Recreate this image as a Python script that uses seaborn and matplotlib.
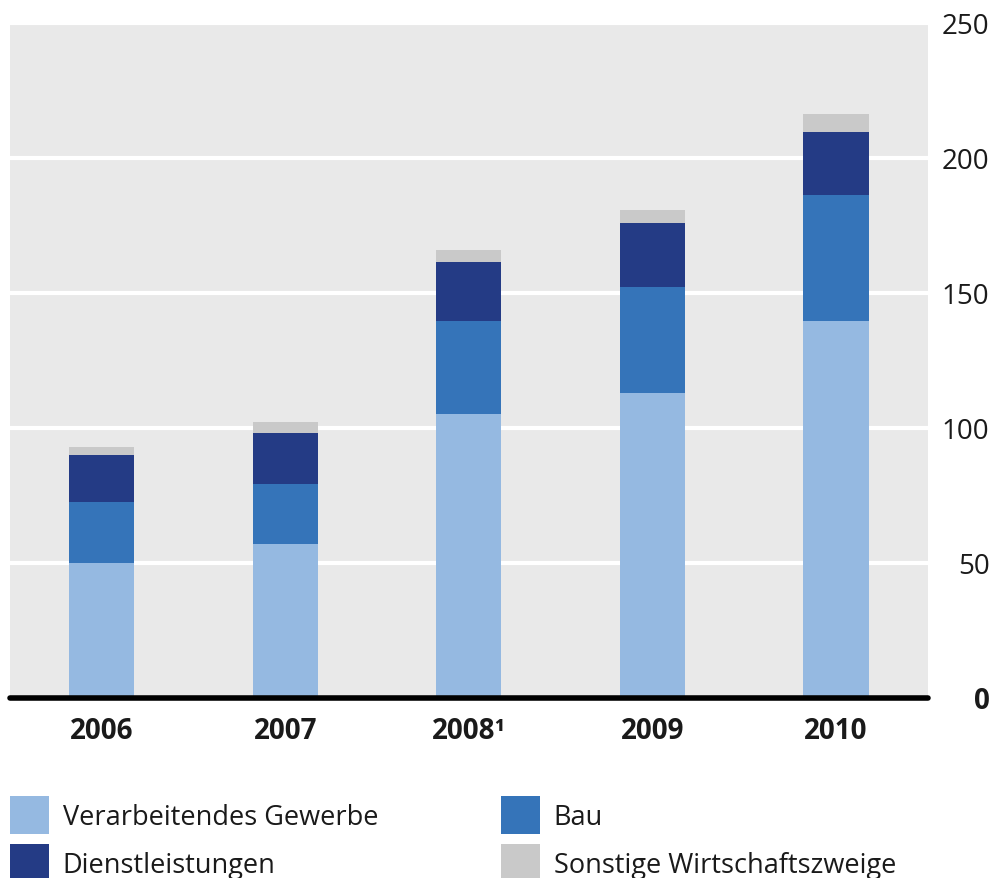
import matplotlib
matplotlib.use("Agg")
import matplotlib.pyplot as plt
from matplotlib.patches import Patch
import seaborn as sns
import pandas as pd
import numpy as np

# Data
years = ["2006", "2007", "2008\u00b9", "2009", "2010"]
verarbeitendes = [49.8, 56.7, 105.0, 112.8, 139.6]
bau = [22.6, 22.5, 34.6, 39.3, 46.6]
dienstleistungen = [17.4, 18.8, 21.6, 23.6, 23.1]
sonstige = [3.0, 4.1, 4.5, 4.9, 6.8]
series_names = ["Verarbeitendes Gewerbe", "Bau", "Dienstleistungen",
                "Sonstige Wirtschaftszweige"]
series_colors = ["#95B9E1", "#3574B9", "#243B85", "#C9C9C9"]
y_ticks = [0, 50, 100, 150, 200, 250]

sns.set_theme(style="white")
plt.rcParams["font.family"] = ["Open Sans", "DejaVu Sans"]

df = pd.DataFrame({
    "Jahr": years,
    series_names[0]: verarbeitendes,
    series_names[1]: bau,
    series_names[2]: dienstleistungen,
    series_names[3]: sonstige,
})
# cumulative tops for stacking
cum = df[series_names].cumsum(axis=1)
for name in series_names:
    df["top_" + name] = cum[name]

W, H = 992, 879
fig = plt.figure(figsize=(W / 100, H / 100), dpi=100)
x0, x1 = 10, 927.7
y_top, y_zero = 23.5, 698.5
ax = fig.add_axes([x0 / W, (H - y_zero) / H, (x1 - x0) / W, (y_zero - y_top) / H])
ax.set_facecolor("none")
# grey plotting panel, ending just below the top tick
ax.axhspan(0, 249.1, color="#E9E9E9", zorder=0, linewidth=0)

# draw the tallest layer first so each lower segment sits on top of it
for name, color in reversed(list(zip(series_names, series_colors))):
    sns.barplot(data=df, x="Jahr", y="top_" + name, color=color, saturation=1,
                width=0.355, errorbar=None, edgecolor="none", linewidth=0, ax=ax)

ax.set_xlim(-0.5, 4.5)
ax.set_ylim(0, 250)
ax.set_axisbelow(True)
ax.yaxis.grid(True, color="white", linewidth=3)
ax.xaxis.grid(False)
for s in ax.spines.values():
    s.set_visible(False)
ax.axhline(0, color="black", linewidth=4, clip_on=False, zorder=5)

ax.set_xlabel("")
ax.set_ylabel("")
ax.yaxis.tick_right()
ax.set_yticks(y_ticks, labels=[str(v) for v in y_ticks], ha="right")
ax.tick_params(axis="y", length=0, pad=44.5, labelsize=20, colors="#1a1a1a")
ax.get_yticklabels()[0].set_fontweight("bold")
ax.tick_params(axis="x", length=0, pad=13, labelsize=20, colors="#1a1a1a")
for lab in ax.get_xticklabels():
    lab.set_fontweight("bold")

handles = [Patch(facecolor=c, edgecolor="none") for c in series_colors]
leg_kw = dict(loc="upper left", frameon=False, fontsize=19.5, handlelength=1.45,
              handleheight=1.8, handletextpad=0.5, labelspacing=0.36,
              borderpad=0, borderaxespad=0, labelcolor="#1a1a1a")
fig.legend(handles=[handles[0], handles[2]], labels=[series_names[0], series_names[2]],
           bbox_to_anchor=(10 / W, 1 - 797 / H), **leg_kw)
fig.legend(handles=[handles[1], handles[3]], labels=[series_names[1], series_names[3]],
           bbox_to_anchor=(501 / W, 1 - 797 / H), **leg_kw)

fig.savefig("out.png", dpi=100)
